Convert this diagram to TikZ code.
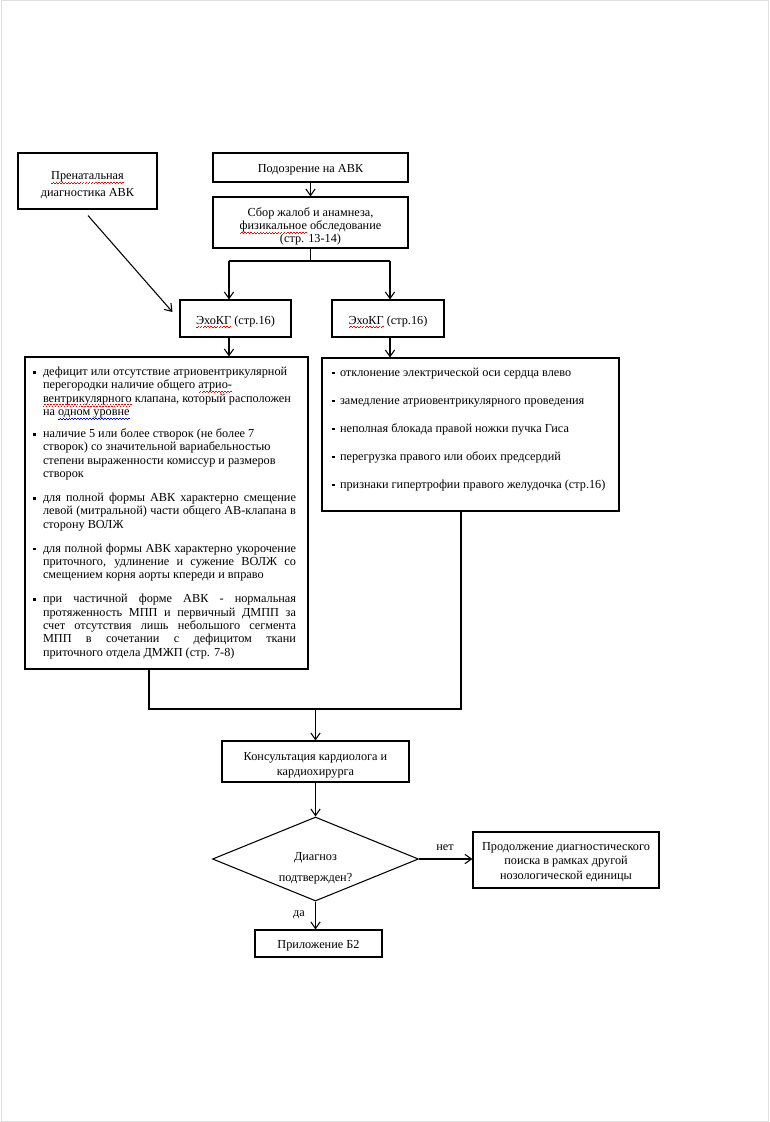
\documentclass[tikz,border=0pt]{standalone}
\usepackage{fontspec}
\setmainfont{Liberation Serif}
\usetikzlibrary{arrows.meta,shapes.geometric,calc}
\newcommand\sqg[2]{\leavevmode\setbox0\hbox{#2}\rlap{\copy0}\hbox to \wd0{\color{#1}\xleaders\hbox{\rule[-3.0pt]{1.1pt}{0.45pt}\rule[-2.1pt]{1.1pt}{0.45pt}}\hfill}}
\newcommand\redsq[1]{\sqg{red}{#1}}
\newcommand\bluesq[1]{\sqg{blue}{#1}}
\newcommand\fs{\fontsize{9.2}{10}\selectfont}
\newcommand\blt{\raisebox{1.5pt}{\rule{2pt}{2pt}}}
\newlength\bwL \setlength\bwL{7.5pt}
\newlength\twL \setlength\twL{189.75pt}
\newcommand\jl[1]{\makebox[\twL][s]{#1}}
\tikzset{
  box/.style={draw, line width=0.8pt, inner sep=0pt},
  tbox/.style={draw, line width=0.8pt, inner sep=0pt, font=\fs},
  lab/.style={align=center, font=\fs, inner sep=0pt},
  dia/.style={draw, diamond, line width=0.8pt, inner sep=0pt},
  lbl/.style={font=\fs, inner sep=1pt},
  ln/.style={line width=0.8pt},
  arr/.style={line width=0.8pt, -{Straight Barb[length=5pt,width=7pt]}},
}
\begin{document}
\begin{tikzpicture}[x=0.75pt, y=-0.75pt]
\useasboundingbox (0,0) rectangle (770,1122);
\draw[gray!25, line width=0.75pt] (1,0.5) rectangle (768.5,1121.5);

% top boxes
\node[box, minimum width=104.25pt, minimum height=42pt,
  label={[lab, yshift=-3pt]center:{\redsq{Пренатальная}\\[2.5pt]диагностика АВК}}] (pren) at (87.5,181) {};
\node[box, minimum width=146.25pt, minimum height=21.75pt,
  label={[lab, yshift=-1.5pt]center:{Подозрение на АВК}}] (susp) at (310.5,167.5) {};
\node[box, minimum width=146.25pt, minimum height=38.25pt,
  label={[lab, yshift=-3pt]center:{Сбор жалоб и анамнеза,\\\redsq{физикальное} обследование\\(стр. 13-14)}}] (sbor) at (310.5,222.5) {};
\node[box, minimum width=83.25pt, minimum height=27.75pt,
  label={[lab, yshift=-2.5pt]center:{\redsq{ЭхоКГ} (стр.16)}}] (echoL) at (235.5,318.5) {};
\node[box, minimum width=84pt, minimum height=27.75pt,
  label={[lab, yshift=-2.5pt]center:{\redsq{ЭхоКГ} (стр.16)}}] (echoR) at (388,318.5) {};

% left text box
\node[tbox, minimum width=212.25pt, minimum height=234pt] (lbox) at (166.5,513) {\parbox{200.25pt}{%
\setlength\parindent{0pt}%
{\hangindent=\bwL \hangafter=1 \makebox[\bwL][l]{\blt}дефицит или отсутствие атриовентрикулярной\\
перегородки наличие общего \redsq{атрио-}\\
\redsq{вентрикулярного} клапана, который расположен\\
на \bluesq{одном уровне}\par}
\vspace{6.5pt}
{\hangindent=\bwL \hangafter=1 \makebox[\bwL][l]{\blt}наличие 5 или более створок (не более 7\\
створок) со значительной вариабельностью\\
степени выраженности комиссур и размеров\\
створок\par}
\vspace{8pt}
{\hangindent=\bwL \hangafter=1 \makebox[\bwL][l]{\blt}\jl{для полной формы АВК характерно смещение}\\
\jl{левой (митральной) части общего АВ-клапана в}\\
сторону ВОЛЖ\par}
\vspace{8pt}
{\hangindent=\bwL \hangafter=1 \makebox[\bwL][l]{\blt}\jl{для полной формы АВК характерно укорочение}\\
\jl{приточного, удлинение и сужение ВОЛЖ со}\\
смещением корня аорты кпереди и вправо\par}
\vspace{8pt}
{\hangindent=\bwL \hangafter=1 \makebox[\bwL][l]{\blt}\jl{при частичной форме АВК - нормальная}\\
\jl{протяженность МПП и первичный ДМПП за}\\
\jl{счет отсутствия лишь небольшого сегмента}\\
\jl{МПП в сочетании с дефицитом ткани}\\
приточного отдела ДМЖП (стр. 7-8)\par}
}};

% right text box
\node[tbox, minimum width=222.75pt, minimum height=114.75pt] (rbox) at (470.5,434.5) {\parbox{207.75pt}{%
\setlength\parindent{0pt}%
\makebox[6pt][l]{\blt}отклонение электрической оси сердца влево\\[11pt]
\makebox[6pt][l]{\blt}замедление атриовентрикулярного проведения\\[11pt]
\makebox[6pt][l]{\blt}неполная блокада правой ножки пучка Гиса\\[11pt]
\makebox[6pt][l]{\blt}перегрузка правого или обоих предсердий\\[11pt]
\makebox[6pt][l]{\blt}признаки гипертрофии правого желудочка (стр.16)\par
\vspace*{7.5pt}}};

% lower part
\node[box, minimum width=140.25pt, minimum height=30.75pt,
  label={[lab, yshift=-3pt]center:{Консультация кардиолога и\\[1pt]кардиохирурга}}] (cons) at (315.5,761.5) {};
\node[dia, minimum width=154.5pt, minimum height=63pt] (dia) at (315.5,859) {};
\node[lbl, align=center] (diat) at (315.5,868) {Диагноз\\[5.5pt]подтвержден?};
\node[box, minimum width=139.5pt, minimum height=42pt,
  label={[lab, yshift=-1.5pt]center:{Продолжение диагностического\\[1pt]поиска в рамках другой\\[1pt]нозологической единицы}}] (cont) at (566,860) {};
\node[box, minimum width=95.25pt, minimum height=20.25pt,
  label={[lab, yshift=-1.5pt]center:{Приложение Б2}}] (app) at (318.5,943.5) {};
\node[lbl] (net) at (445,848) {нет};
\node[lbl] (da) at (299,915) {да};

% connectors
\coordinate (jL) at (229,261);
\coordinate (jR) at (390,261);
\coordinate (bL) at (149,709);
\coordinate (bR) at (461,709);
\draw[arr] (susp.south) -- (sbor.north);
\draw[ln] (sbor.south) -- (sbor.south |- jL);
\draw[ln] (jL) -- (jR);
\draw[arr] (jL) -- (jL |- echoL.north);
\draw[arr] (jR) -- (jR |- echoR.north);
\draw[arr] ($(pren.south)+(0.5,6)$) -- ($(echoL.west)+(-7,-6.5)$);
\draw[arr] (echoL.south -| jL) -- (lbox.north -| jL);
\draw[arr] (echoR.south -| jR) -- (rbox.north -| jR);
\draw[ln] (lbox.south -| bL) -- (bL) -- (bR) -- (rbox.south -| bR);
\draw[arr] (cons.north |- bL) -- (cons.north);
\draw[arr] (cons.south) -- (dia.north);
\draw[arr] (dia.east) -- (dia.east -| cont.west);
\draw[arr] (dia.south) -- (dia.south |- app.north);
\end{tikzpicture}
\end{document}
